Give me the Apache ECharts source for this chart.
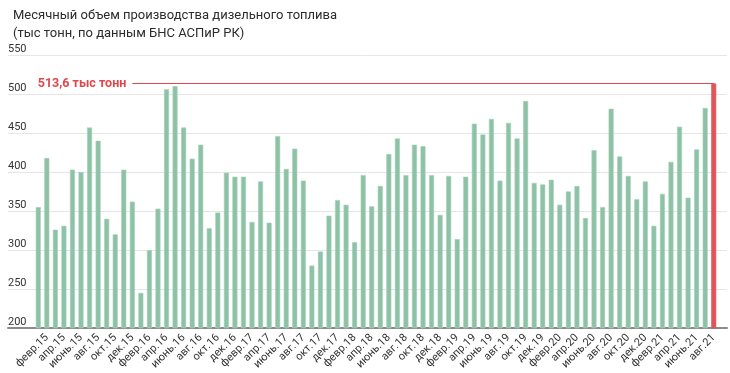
<!DOCTYPE html>
<html>
<head>
<meta charset="utf-8">
<script src="https://cdn.jsdelivr.net/npm/echarts@6/dist/echarts.min.js"></script>
<style>html,body{margin:0;padding:0;background:#fff;}#c{width:730px;height:373px;}</style>
</head>
<body>
<div id="c"></div>
<script>
var months = ['янв', 'февр', 'март', 'апр', 'май', 'июнь', 'июль', 'авг', 'сент', 'окт', 'нояб', 'дек'];
var years = ['15', '16', '17', '18', '19', '20', '21'];
var categories = [];
years.forEach(function (y) {
  months.forEach(function (m, i) {
    if (y === '21' && i > 7) return;
    categories.push(m + '.' + y);
  });
});
var values = [
  355, 418, 326, 331, 403, 400, 457, 440, 340, 320, 403, 362,
  245, 300, 353, 506, 510, 457, 417, 435, 328, 348, 399, 394,
  394, 336, 388, 335, 446, 404, 430, 389, 280, 298, 344, 364,
  358, 310, 396, 356, 382, 423, 443, 396, 435, 433, 396, 345,
  395, 314, 394, 462, 448, 468, 389, 463, 443, 491, 386, 384,
  390, 358, 375, 382, 341, 428, 355, 481, 420, 395, 365, 388,
  331, 372, 413, 458, 367, 429, 482, 513.6
];
var yTicks = { min: 200, max: 550, interval: 50 };
var highlightLabel = '513,6 тыс тонн';
var lineStartIndex = 11;

var last = values.length - 1;
var seriesData = values.map(function (v, i) {
  if (i === last) return { value: v, itemStyle: { color: '#e0555b', borderColor: '#e0555b' } };
  return v;
});

var chart = echarts.init(document.getElementById('c'));
chart.setOption({
  animation: false,
  textStyle: { fontFamily: 'Roboto' },
  title: {
    text: 'Месячный объем производства дизельного топлива\n(тыс тонн, по данным БНС АСПиР РК)',
    left: 8, top: 2,
    textStyle: { fontSize: 13, fontWeight: 'normal', color: '#2b2b2b', lineHeight: 18, fontFamily: 'Roboto' }
  },
  grid: [
    { left: 8, right: 3, top: 55, bottom: 45 },
    { left: 34, right: 12, top: 55, bottom: 45 }
  ],
  xAxis: [
    { gridIndex: 0, type: 'value', min: 0, max: 1, axisLabel: { show: false }, axisTick: { show: false },
      splitLine: { show: false }, axisLine: { show: true, onZero: false, lineStyle: { color: '#8a8a8a', width: 2 } } },
    { gridIndex: 1, type: 'category', data: categories, axisTick: { show: false },
      axisLine: { show: false },
      axisLabel: { rotate: 45, fontSize: 11, color: '#333', margin: 8, fontFamily: 'Roboto',
        interval: function (i) { return i % 2 === 1; } } }
  ],
  yAxis: [
    { gridIndex: 0, type: 'value', min: yTicks.min, max: yTicks.max, interval: yTicks.interval,
      axisLine: { show: false }, axisTick: { show: false },
      splitLine: { lineStyle: { color: '#e6e6e6', width: 1 } },
      axisLabel: { inside: true, margin: 0, align: 'left', verticalAlign: 'bottom',
        fontSize: 11, color: '#333', fontFamily: 'Roboto' } },
    { gridIndex: 1, type: 'value', min: yTicks.min, max: yTicks.max, interval: yTicks.interval, show: false,
      splitLine: { show: false } }
  ],
  series: [
    { type: 'line', xAxisIndex: 0, yAxisIndex: 0, data: [] },
    {
      type: 'bar', xAxisIndex: 1, yAxisIndex: 1, data: seriesData, barWidth: 5,
      itemStyle: { color: '#8dc2a6', borderColor: '#a4d2b8', borderWidth: 0.6 },
      markLine: {
        silent: true, symbol: ['none', 'none'],
        lineStyle: { color: '#e0474d', width: 1.2, type: 'solid' },
        label: { show: true, position: 'start', formatter: highlightLabel, color: '#e0474d',
          fontSize: 12.5, fontWeight: 'bold', distance: 6, fontFamily: 'Roboto' },
        data: [[
          { coord: [categories[lineStartIndex], values[last]] },
          { coord: [categories[last], values[last]] }
        ]]
      }
    }
  ]
});
</script>
</body>
</html>
